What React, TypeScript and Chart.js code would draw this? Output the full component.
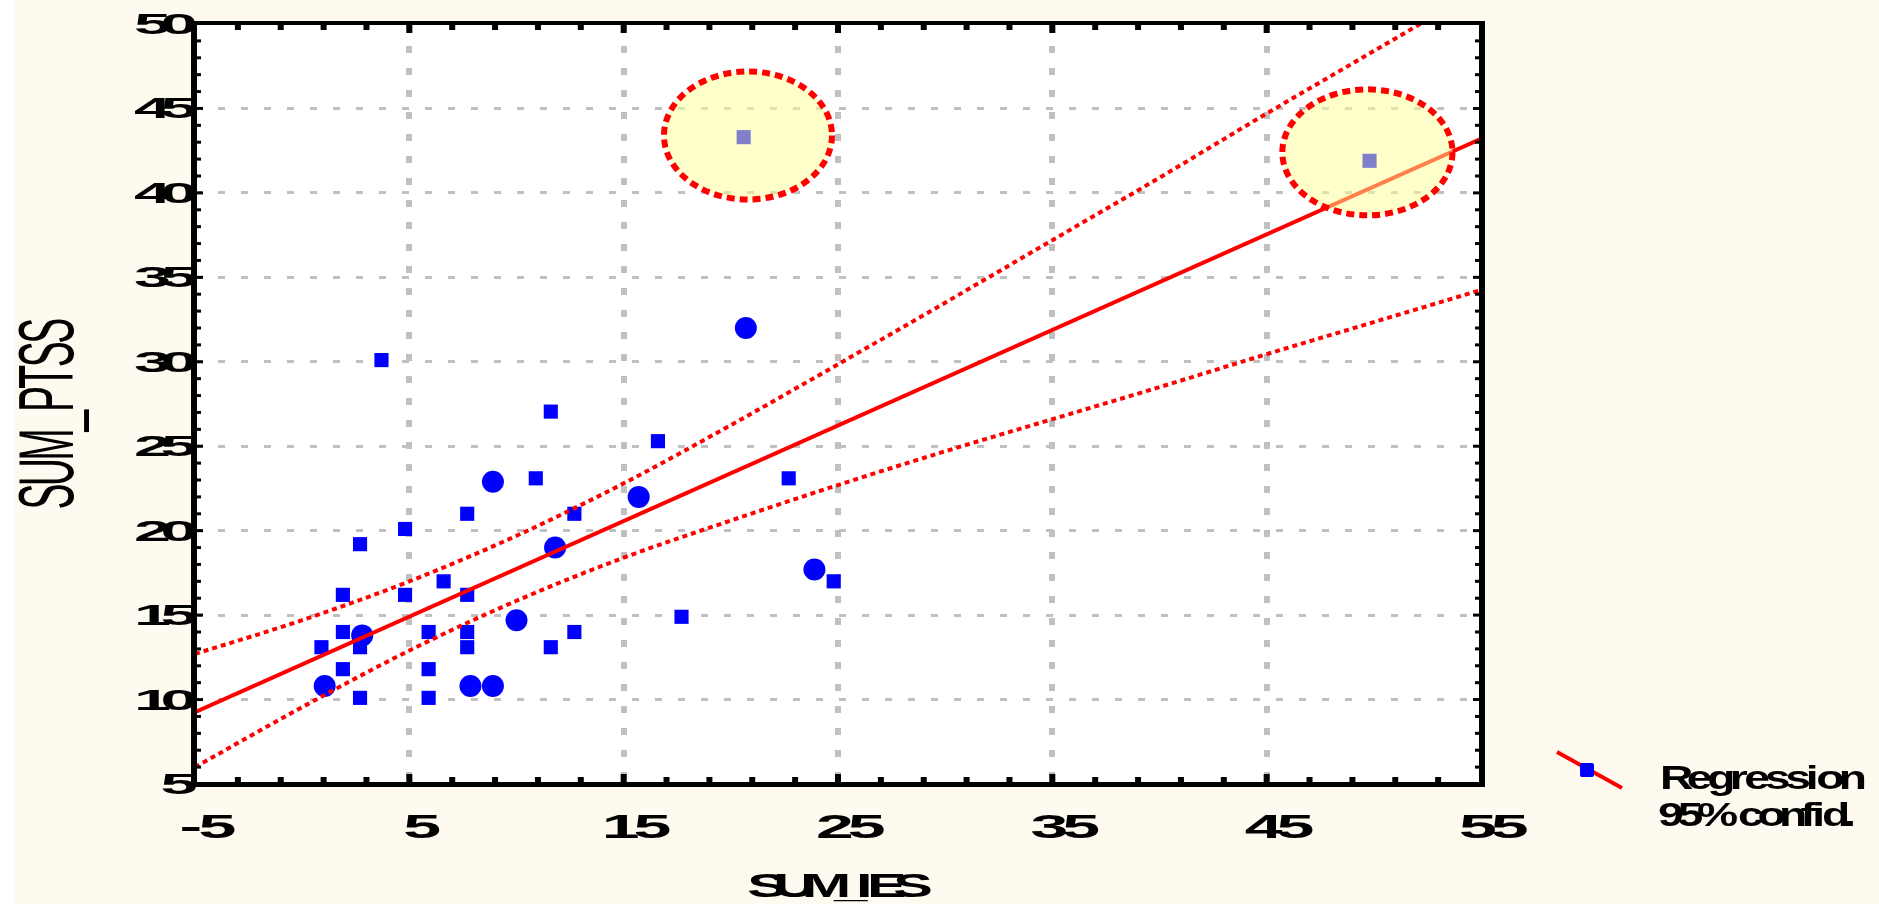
import React, { useEffect, useRef } from "react";
import { Chart, registerables } from "chart.js";

Chart.register(...registerables);

// ---------- data ----------
const squareX = [3.7, 11.6, 16.6, 10.9, 22.7, 7.7, 12.7, 4.8, 2.7, 6.6, 24.8, 1.9, 4.8, 7.7, 17.7, 1.9, 5.9, 7.7, 12.7, 0.9, 2.7, 7.7, 11.6, 1.9, 5.9, 2.7, 5.9];
const squareY = [30.1, 27.05, 25.3, 23.1, 23.1, 21.0, 21.0, 20.1, 19.2, 17.0, 17.0, 16.2, 16.2, 16.2, 14.9, 14.0, 14.0, 14.0, 14.0, 13.1, 13.1, 13.1, 13.1, 11.8, 11.8, 10.1, 10.1];

const circleX = [20.7, 8.9, 15.7, 11.8, 23.9, 10.0, 2.8, 1.05, 7.85, 8.9];
const circleY = [32.0, 22.9, 22.0, 19.0, 17.7, 14.7, 13.8, 10.8, 10.8, 10.8];

const outlierX = [20.6, 49.8];
const outlierY = [43.3, 41.9];

const ellipseCX = [20.8, 49.7];
const ellipseCY = [43.4, 42.4];
const ellipseRX = [3.92, 3.97];
const ellipseRY = [3.79, 3.73];

const regressionX = [-5, 55];
const regressionY = [9.25, 43.2];

const bandX = [-5, 0, 5, 10, 15, 20, 25, 30, 35, 40, 45, 50, 55];
const bandUpper = [12.7, 14.7, 17.0, 19.7, 22.8, 26.25, 29.85, 33.5, 37.2, 40.9, 44.7, 48.4, 52.1];
const bandLower = [6.0, 9.55, 12.9, 15.85, 18.4, 20.6, 22.7, 24.7, 26.6, 28.5, 30.45, 32.35, 34.25];

const xTickValues = [-5, 5, 15, 25, 35, 45, 55];
const xTickLabels = ["-5", "5", "15", "25", "35", "45", "55"];
const yTickValues = [5, 10, 15, 20, 25, 30, 35, 40, 45, 50];
const yTickLabels = ["5", "10", "15", "20", "25", "30", "35", "40", "45", "50"];
const xMinorStep = 2;
const yMinorStep = 1;

const xTitle = "SUM_IES";
const yTitle = "SUM_PTSS";
const legendLabels = ["Regression", "95% confid."];

// ---------- styles ----------
const CREAM = "#fffaef";
const BLUE = "#0000ff";
const RED = "#ff0000";
const GRID = "#c0c0c0";
const FONT = '"Liberation Sans", Arial, Helvetica, sans-serif';

function drawStretched(
  ctx: CanvasRenderingContext2D,
  text: string,
  x: number,
  y: number,
  size: number,
  sx: number,
  k: number,
  align: "left" | "center" | "right",
  weight: string = "normal"
) {
  ctx.font = `${weight} ${size}px ${FONT}`;
  ctx.textBaseline = "alphabetic";
  ctx.textAlign = "left";
  const chars = Array.from(text);
  const advs = chars.map((c) => ctx.measureText(c).width * sx);
  let total = 0;
  for (let i = 0; i < advs.length - 1; i++) total += advs[i] * k;
  total += advs[advs.length - 1] * 0.9;
  let cx = align === "left" ? x : align === "right" ? x - total : x - total / 2;
  chars.forEach((c, i) => {
    ctx.save();
    ctx.translate(cx, y);
    ctx.scale(sx, 1);
    ctx.fillText(c, 0, 0);
    ctx.restore();
    cx += advs[i] * k;
  });
  return total;
}

const decorPlugin = {
  id: "decor",
  beforeDraw(chart: any) {
    const { ctx, chartArea: ca, width, height } = chart;
    ctx.save();
    ctx.fillStyle = CREAM;
    ctx.fillRect(0, 0, width, height);
    ctx.fillStyle = "#ffffff";
    ctx.fillRect(0, 0, 15, height);
    ctx.fillRect(ca.left, ca.top, ca.right - ca.left, ca.bottom - ca.top);
    ctx.restore();
  },
  afterDatasetsDraw(chart: any) {
    const { ctx, scales, chartArea: ca } = chart;
    const xs = scales.x;
    const ys = scales.y;
    ctx.save();
    ctx.beginPath();
    ctx.rect(ca.left, ca.top, ca.right - ca.left, ca.bottom - ca.top);
    ctx.clip();
    for (let i = 0; i < ellipseCX.length; i++) {
      const cx = xs.getPixelForValue(ellipseCX[i]);
      const cy = ys.getPixelForValue(ellipseCY[i]);
      const rx = Math.abs(xs.getPixelForValue(ellipseCX[i] + ellipseRX[i]) - cx);
      const ry = Math.abs(ys.getPixelForValue(ellipseCY[i] + ellipseRY[i]) - cy);
      ctx.beginPath();
      ctx.ellipse(cx, cy, rx, ry, 0, 0, Math.PI * 2);
      ctx.fillStyle = "rgba(255,255,150,0.5)";
      ctx.fill();
      ctx.setLineDash([8, 5]);
      ctx.lineWidth = 6;
      ctx.strokeStyle = RED;
      ctx.stroke();
    }
    ctx.restore();
  },
  afterDraw(chart: any) {
    const { ctx, scales, chartArea: ca } = chart;
    const xs = scales.x;
    const ys = scales.y;
    ctx.save();
    ctx.setLineDash([]);
    ctx.fillStyle = "#000";
    // frame
    ctx.fillRect(ca.left - 4, ca.top - 3, 6, ca.bottom - ca.top + 6); // left
    ctx.fillRect(ca.left - 4, ca.top - 3, ca.right - ca.left + 8, 4); // top
    ctx.fillRect(ca.right - 2, ca.top - 3, 6, ca.bottom - ca.top + 6); // right
    ctx.fillRect(ca.left - 4, ca.bottom - 2, ca.right - ca.left + 8, 5); // bottom
    // x ticks (top & bottom)
    for (let v = xs.min; v <= xs.max + 1e-6; v += xMinorStep) {
      if (v === xs.min || Math.abs(v - xs.max) < 1e-6) continue;
      const px = xs.getPixelForValue(v);
      const major = xTickValues.includes(v);
      const len = major ? 8 : 5;
      ctx.fillRect(px - 3, ca.bottom - 2 - len, 6, len);
      ctx.fillRect(px - 3, ca.top + 1, 6, len);
    }
    // y ticks (left & right)
    for (let v = ys.min; v <= ys.max + 1e-6; v += yMinorStep) {
      if (v === ys.min || Math.abs(v - ys.max) < 1e-6) continue;
      const py = ys.getPixelForValue(v);
      const major = yTickValues.includes(v);
      const len = major ? 6 : 4;
      ctx.fillRect(ca.left + 2, py - 1.5, len, 3);
      ctx.fillRect(ca.right - 2 - len, py - 1.5, len, 3);
    }
    // y tick labels
    yTickValues.forEach((v, i) => {
      const py = ys.getPixelForValue(v);
      drawStretched(ctx, yTickLabels[i], ca.left - 1, py + 10, 29, 2.3, 0.72, "right", "bold");
    });
    // x tick labels
    xTickValues.forEach((v, i) => {
      const px = xs.getPixelForValue(v);
      drawStretched(ctx, xTickLabels[i], px + 11, 838, 34, 2.0, 0.84, "center", "bold");
    });
    // y title (rotated)
    ctx.save();
    ctx.translate(73, 415);
    ctx.rotate(-Math.PI / 2);
    drawStretched(ctx, yTitle, 0, 0, 78, 0.5, 0.9, "center");
    ctx.restore();
    // x title
    drawStretched(ctx, xTitle, 838, 897, 33, 1.8, 0.66, "center", "bold");
    // legend symbol
    ctx.strokeStyle = RED;
    ctx.lineWidth = 4;
    ctx.beginPath();
    ctx.moveTo(1557, 752);
    ctx.lineTo(1622, 788);
    ctx.stroke();
    ctx.fillStyle = BLUE;
    ctx.beginPath();
    (ctx as any).roundRect(1580, 763, 14, 14, 2);
    ctx.fill();
    ctx.fillStyle = "#000";
    drawStretched(ctx, legendLabels[0], 1660, 789, 33, 1.4, 0.8, "left", "bold");
    drawStretched(ctx, legendLabels[1], 1658, 826, 33, 1.4, 0.76, "left", "bold");
    ctx.restore();
  },
};

export default function App() {
  const ref = useRef<HTMLCanvasElement>(null);
  useEffect(() => {
    document.body.style.margin = "0";
    document.body.style.background = CREAM;
    const canvas = ref.current!;
    const toPts = (xs: number[], ys: number[]) => xs.map((x, i) => ({ x, y: ys[i] }));
    const chart = new Chart(canvas, {
      type: "scatter",
      data: {
        datasets: [
          {
            label: "Regression",
            data: toPts(regressionX, regressionY),
            showLine: true,
            borderColor: RED,
            borderWidth: 4,
            pointRadius: 0,
            order: 0,
          } as any,
          {
            label: "95% confid. upper",
            data: toPts(bandX, bandUpper),
            showLine: true,
            borderColor: RED,
            borderWidth: 4,
            borderDash: [5, 4],
            pointRadius: 0,
            cubicInterpolationMode: "monotone",
            order: 0,
          } as any,
          {
            label: "95% confid. lower",
            data: toPts(bandX, bandLower),
            showLine: true,
            borderColor: RED,
            borderWidth: 4,
            borderDash: [5, 4],
            pointRadius: 0,
            cubicInterpolationMode: "monotone",
            order: 0,
          } as any,
          {
            label: "points",
            data: toPts(squareX, squareY),
            pointStyle: "rect",
            pointRadius: 10,
            pointBackgroundColor: BLUE,
            pointBorderWidth: 0,
            order: 1,
          } as any,
          {
            label: "points (multiple)",
            data: toPts(circleX, circleY),
            pointStyle: "circle",
            pointRadius: 11,
            pointBackgroundColor: BLUE,
            pointBorderWidth: 0,
            order: 1,
          } as any,
          {
            label: "outliers",
            data: toPts(outlierX, outlierY),
            pointStyle: "rect",
            pointRadius: 10,
            pointBackgroundColor: BLUE,
            pointBorderWidth: 0,
            order: 1,
          } as any,
        ],
      },
      options: {
        animation: false,
        responsive: false,
        devicePixelRatio: 1,
        events: [],
        layout: { padding: { left: 195, right: 398, top: 24, bottom: 120 } },
        plugins: { legend: { display: false }, tooltip: { enabled: false } },
        scales: {
          x: {
            type: "linear",
            min: -5,
            max: 55,
            afterBuildTicks: (s: any) => {
              s.ticks = xTickValues.map((v) => ({ value: v }));
            },
            ticks: { display: false },
            grid: {
              color: (c: any) =>
                c.tick && c.tick.value > -5 && c.tick.value < 55 ? GRID : "rgba(0,0,0,0)",
              lineWidth: 6,
              drawTicks: false,
            },
            border: { display: false, dash: [7, 15] },
          },
          y: {
            type: "linear",
            min: 5,
            max: 50,
            afterBuildTicks: (s: any) => {
              s.ticks = yTickValues.map((v) => ({ value: v }));
            },
            ticks: { display: false },
            grid: {
              color: (c: any) =>
                c.tick && c.tick.value > 5 && c.tick.value < 50 ? GRID : "rgba(0,0,0,0)",
              lineWidth: 3,
              drawTicks: false,
            },
            border: { display: false, dash: [7, 16] },
          },
        },
      } as any,
      plugins: [decorPlugin],
    });
    return () => chart.destroy();
  }, []);
  return <canvas ref={ref} width={1879} height={904} style={{ display: "block" }} />;
}
